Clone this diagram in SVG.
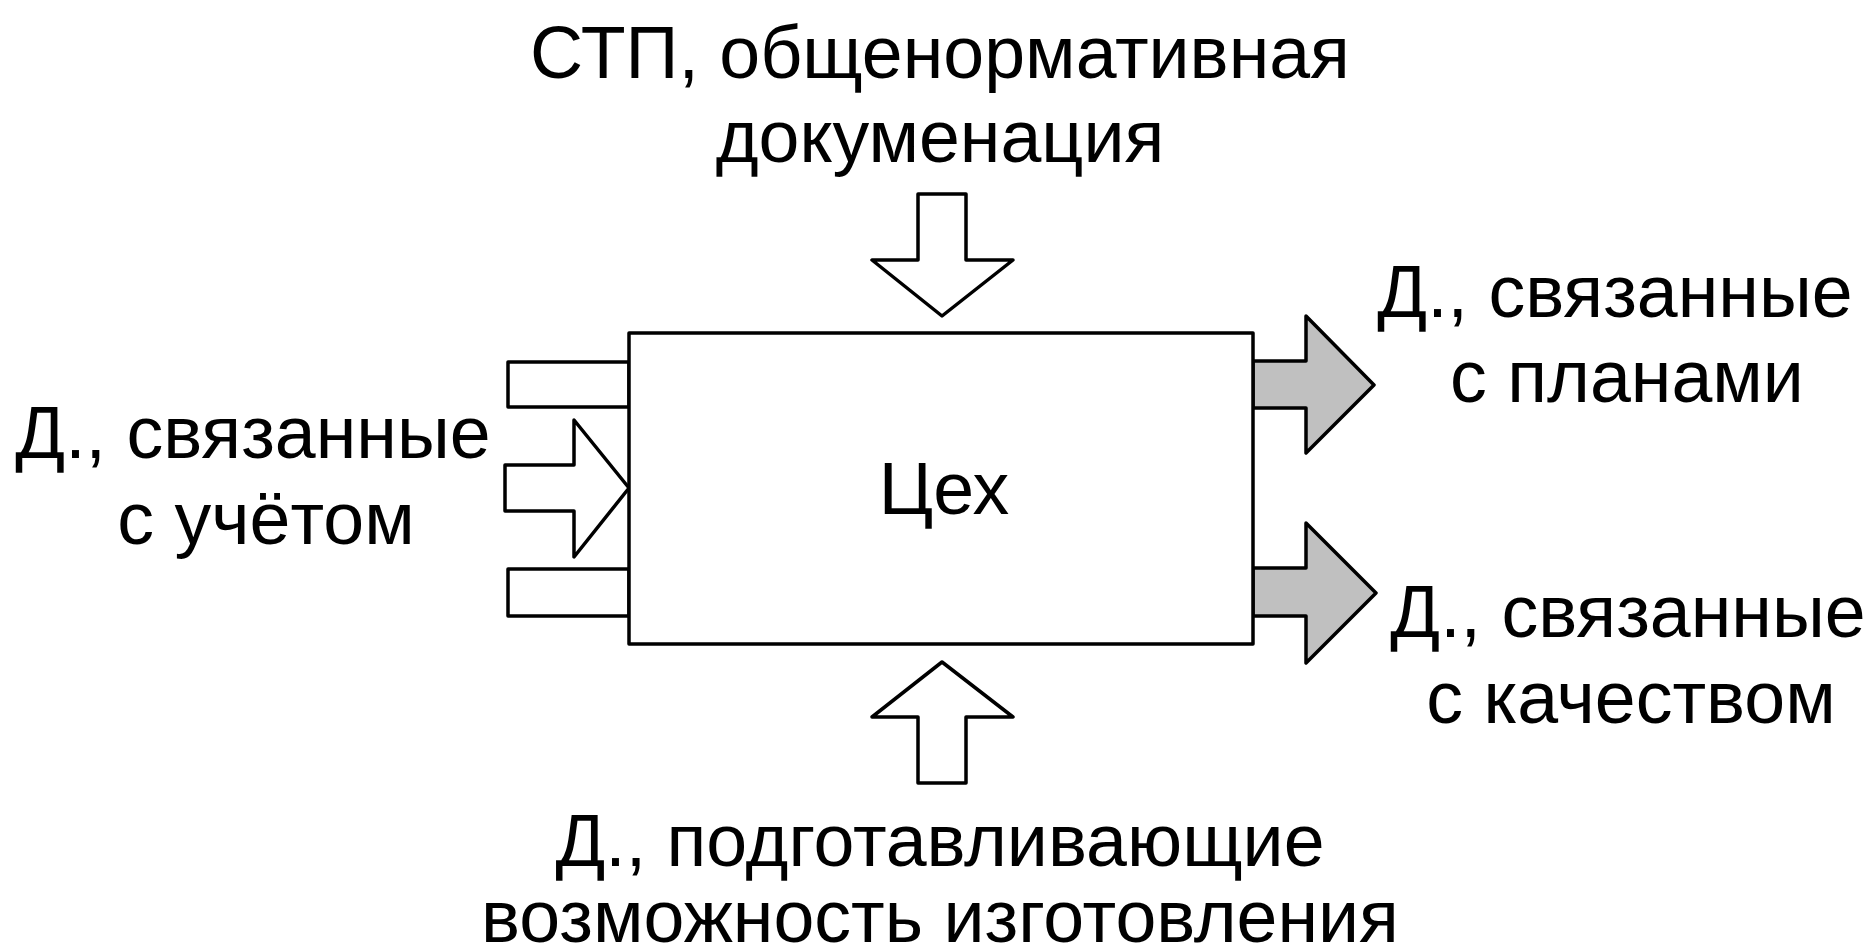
<svg xmlns="http://www.w3.org/2000/svg" width="1874" height="948" viewBox="0 0 1874 948">
<style>
text{font-family:"Liberation Sans",Arial,sans-serif;font-size:73.5px;fill:#000;text-anchor:middle}
.o{fill:#fff;stroke:#000;stroke-width:3.5;stroke-linejoin:round}
.g{fill:#c0c0c0;stroke:#000;stroke-width:3.5;stroke-linejoin:round}
</style>
<rect width="1874" height="948" fill="#fff"/>
<g id="connectors">
<rect class="o" x="508" y="362" width="121" height="45"/>
<rect class="o" x="508" y="569" width="121" height="47"/>
<polygon class="o" points="505,465 574,465 574,420 629,488 574,557 574,511 505,511"/>
<polygon class="o" points="918,194 966,194 966,260 1013,260 942,316 872,260 918,260"/>
<polygon class="o" points="942,662 1013,717 966,717 966,783 918,783 918,717 872,717"/>
<polygon class="g" points="1253,361 1306,361 1306,316 1374,385 1306,453 1306,408 1253,408"/>
<polygon class="g" points="1253,568 1306,568 1306,523 1376,593 1306,663 1306,616 1253,616"/>
</g>
<g id="shop">
<rect class="o" x="629" y="333" width="624" height="311"/>
<text x="944" y="514">Цех</text>
</g>
<g id="top-label">
<text x="940" y="78">СТП, общенормативная</text>
<text x="940" y="162">докуменация</text>
</g>
<g id="left-label">
<text x="253" y="458">Д., связанные</text>
<text x="266" y="544">с учётом</text>
</g>
<g id="right-label-1">
<text x="1615" y="317">Д., связанные</text>
<text x="1627" y="402">с планами</text>
</g>
<g id="right-label-2">
<text x="1628" y="637">Д., связанные</text>
<text x="1631" y="723">с качеством</text>
</g>
<g id="bottom-label">
<text x="940" y="866">Д., подготавливающие</text>
<text x="940" y="942">возможность изготовления</text>
</g>
</svg>
